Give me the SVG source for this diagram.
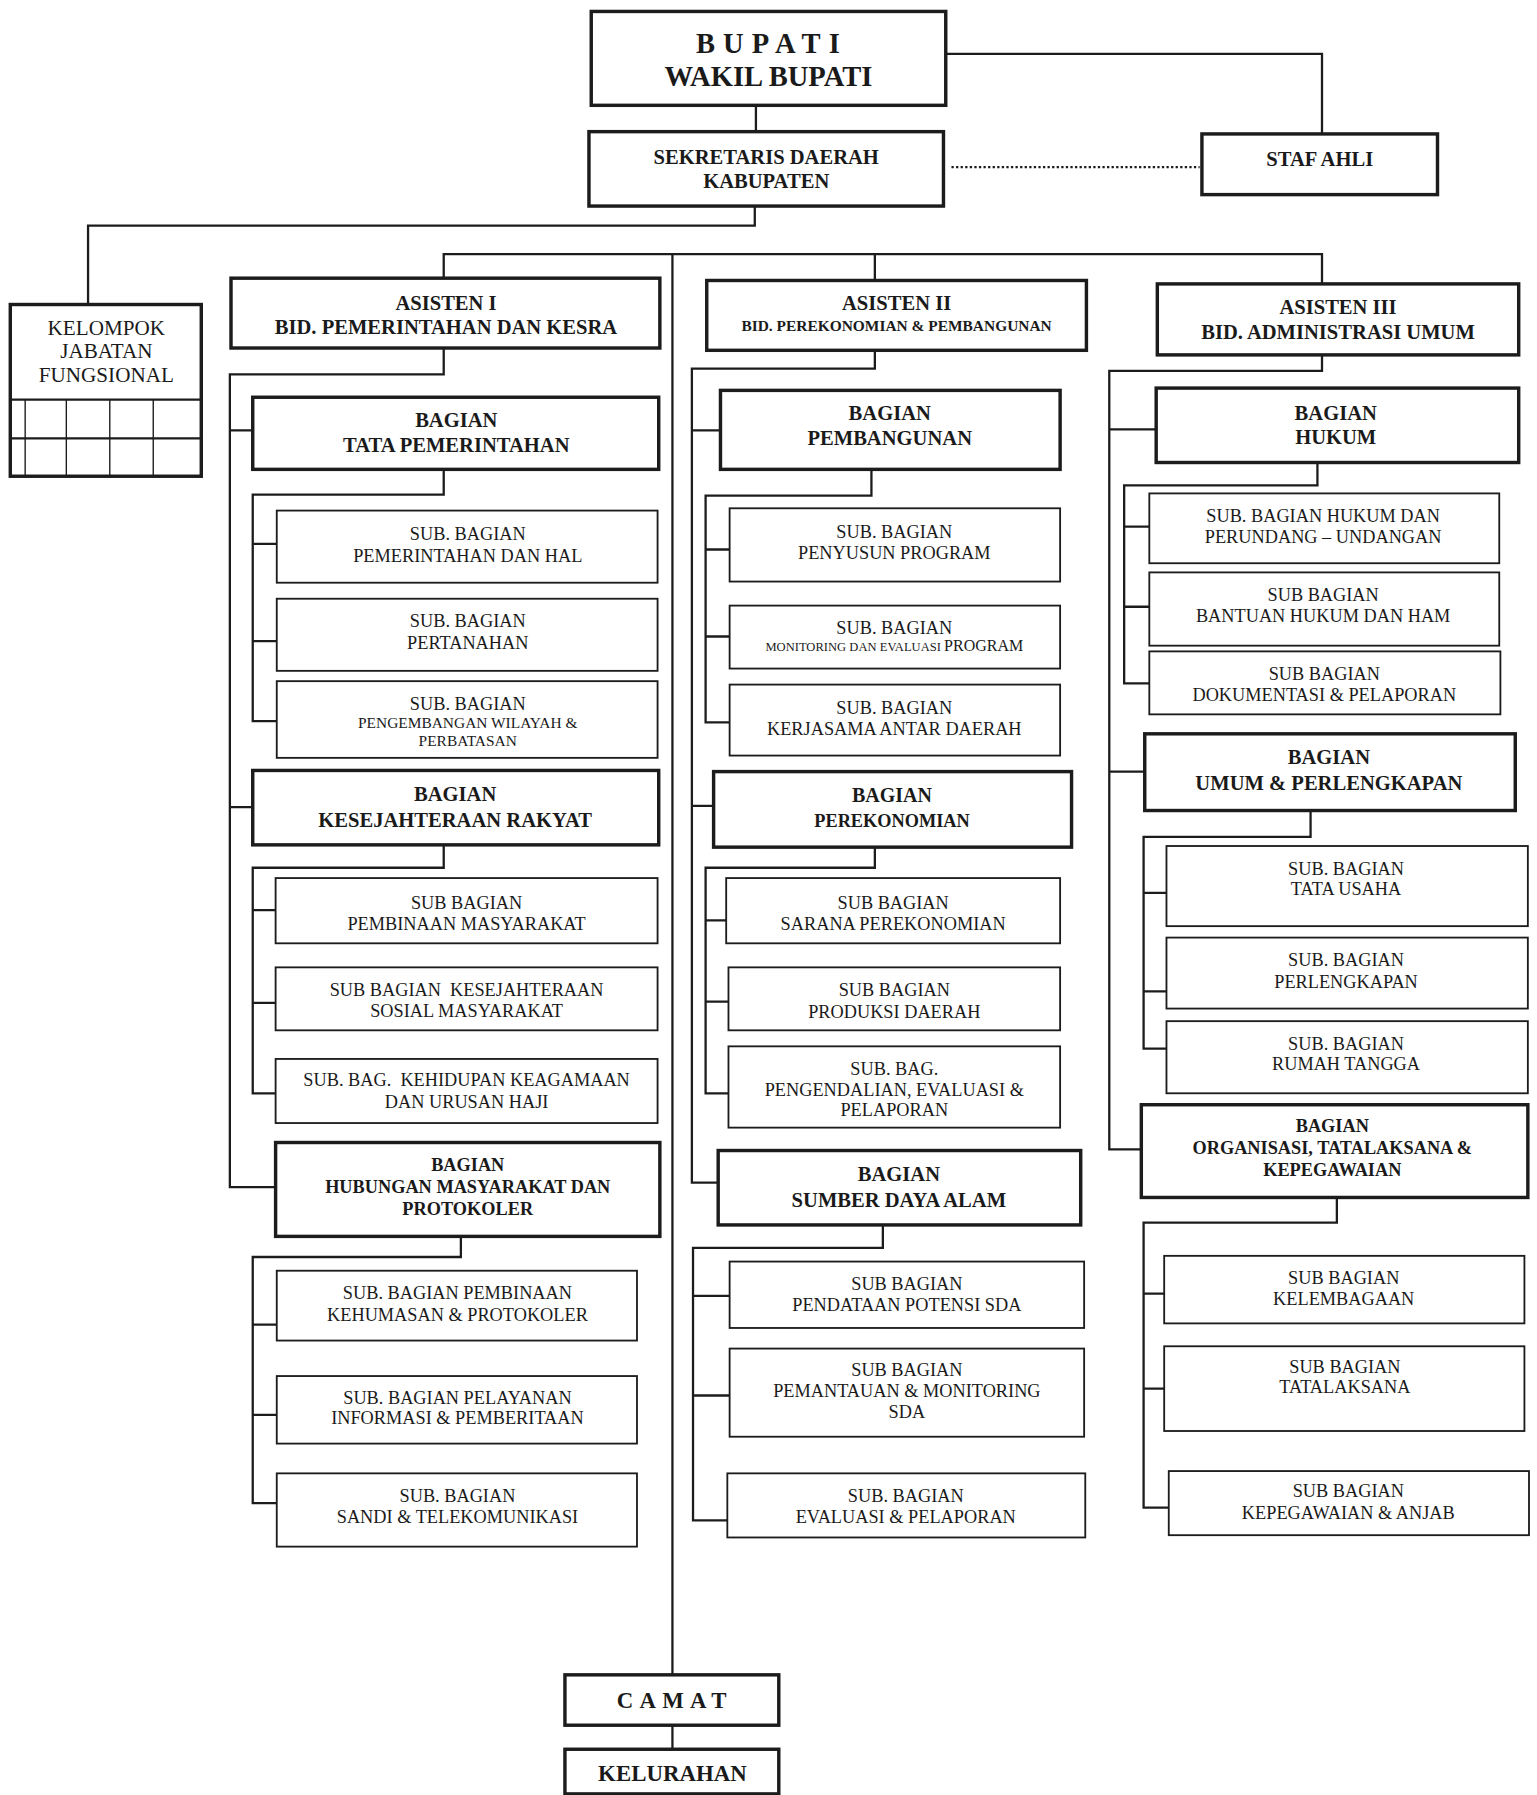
<svg xmlns="http://www.w3.org/2000/svg" width="1537" height="1795" viewBox="0 0 1537 1795">
<style>
.bt{fill:#fff;stroke:#1c1c1c;stroke-width:3}
.bn{fill:#fff;stroke:#1c1c1c;stroke-width:1.6}
.c{fill:none;stroke:#1c1c1c;stroke-width:2}
.g{fill:none;stroke:#1c1c1c;stroke-width:1.2}
.h{font-family:"Liberation Serif","Times New Roman",serif;font-weight:bold;text-anchor:middle;fill:#1a1a1a}
.s{font-family:"Liberation Serif","Times New Roman",serif;text-anchor:middle;fill:#1a1a1a}
</style>
<rect width="1537" height="1795" fill="#fff"/>
<g transform="scale(1.1436,1.1448)" font-size="16">
<g id="connectors">
<path class="c" d="M827,47 H1156 V117"/>
<path class="c" d="M661,92 V115"/>
<path class="c" d="M832,146 H1049" stroke-dasharray="2,2"/>
<path class="c" d="M660,180 V197 H77 V266"/>
<path class="c" d="M388,243 V222 H1156 V248 M765,222 V245"/>
<path class="c" d="M588,222 V1463"/>
<path class="c" d="M588,1507 V1528"/>
<path class="c" d="M388,304 V327 H201 V1037 H241 M201,376 H221 M201,705 H221"/>
<path class="c" d="M388,410 V432 H221 V630 H242 M221,475 H242 M221,560 H242"/>
<path class="c" d="M388,738 V758 H221 V955 H241 M221,795 H241 M221,876 H241"/>
<path class="c" d="M403,1080 V1098 H221 V1313 H242 M221,1157 H242 M221,1236 H242"/>
<path class="c" d="M765,306 V322 H605 V1033 H628 M605,376 H630 M605,704 H624"/>
<path class="c" d="M762,410 V433 H617 V631 H638 M617,480 H638 M617,556 H638"/>
<path class="c" d="M765,740 V758 H617 V955 H637 M617,804 H635 M617,875 H637"/>
<path class="c" d="M772,1070 V1090 H606 V1328 H636 M606,1132 H638 M606,1219 H638"/>
<path class="c" d="M1156,310 V324 H970 V1004 H998 M970,375 H1011 M970,674 H1001"/>
<path class="c" d="M1152,404 V424 H983 V597 H1005 M983,460 H1005 M983,530 H1005"/>
<path class="c" d="M1146,708 V731 H1000 V916 H1020 M1000,780 H1020 M1000,866 H1020"/>
<path class="c" d="M1169,1046 V1068 H1000 V1317 H1022 M1000,1130 H1018 M1000,1213 H1018"/>
</g>
<g id="bupati"><rect class="bt" x="517" y="10" width="310" height="82"/>
<text class="h" x="675" y="46" font-size="25" letter-spacing="7">BUPATI</text>
<text class="h" x="672" y="75" font-size="25">WAKIL BUPATI</text></g>
<g id="sekda"><rect class="bt" x="515" y="115" width="310" height="65"/>
<text class="h" x="670" y="143" font-size="18">SEKRETARIS DAERAH</text>
<text class="h" x="670" y="164" font-size="18">KABUPATEN</text></g>
<g id="staf-ahli"><rect class="bt" x="1051" y="117" width="206" height="53"/>
<text class="h" x="1154" y="145" font-size="18">STAF AHLI</text></g>
<g id="kelompok"><rect class="bt" x="9" y="266" width="167" height="150"/>
<path class="c" d="M9,349 H176 M9,383 H176" stroke-width="2.5"/>
<path class="g" d="M22,349 V416 M58,349 V416 M96,349 V416 M134,349 V416"/>
<text class="s" x="93" y="293" font-size="18.5">KELOMPOK</text>
<text class="s" x="93" y="313" font-size="18.5">JABATAN</text>
<text class="s" x="93" y="334" font-size="18.5">FUNGSIONAL</text></g>
<g id="asisten1"><rect class="bt" x="202" y="243" width="375" height="61"/>
<text class="h" x="390" y="271" font-size="18">ASISTEN I</text>
<text class="h" x="390" y="292" font-size="18">BID. PEMERINTAHAN DAN KESRA</text></g>
<g id="asisten2"><rect class="bt" x="618" y="245" width="332" height="61"/>
<text class="h" x="784" y="271" font-size="18">ASISTEN II</text>
<text class="h" x="784" y="289" font-size="13.5">BID. PEREKONOMIAN &amp; PEMBANGUNAN</text></g>
<g id="asisten3"><rect class="bt" x="1012" y="248" width="316" height="62"/>
<text class="h" x="1170" y="274" font-size="18">ASISTEN III</text>
<text class="h" x="1170" y="296" font-size="18">BID. ADMINISTRASI UMUM</text></g>
<g id="bag-tata-pemerintahan"><rect class="bt" x="221" y="347" width="355" height="63"/>
<text class="h" x="399" y="373" font-size="18">BAGIAN</text>
<text class="h" x="399" y="395" font-size="18">TATA PEMERINTAHAN</text></g>
<g id="sub-pemerintahan"><rect class="bn" x="242" y="446" width="333" height="63"/>
<text class="s" x="409" y="472">SUB. BAGIAN</text><text class="s" x="409" y="491">PEMERINTAHAN DAN HAL</text></g>
<g id="sub-pertanahan"><rect class="bn" x="242" y="523" width="333" height="63"/>
<text class="s" x="409" y="548">SUB. BAGIAN</text><text class="s" x="409" y="567">PERTANAHAN</text></g>
<g id="sub-wilayah"><rect class="bn" x="242" y="595" width="333" height="67"/>
<text class="s" x="409" y="620">SUB. BAGIAN</text><text class="s" x="409" y="636" font-size="13.5">PENGEMBANGAN WILAYAH &amp;</text><text class="s" x="409" y="652" font-size="13.5">PERBATASAN</text></g>
<g id="bag-kesra"><rect class="bt" x="221" y="673" width="355" height="65"/>
<text class="h" x="398" y="700" font-size="18">BAGIAN</text>
<text class="h" x="398" y="722" font-size="18">KESEJAHTERAAN RAKYAT</text></g>
<g id="sub-pembinaan"><rect class="bn" x="241" y="767" width="334" height="57"/>
<text class="s" x="408" y="794">SUB BAGIAN</text><text class="s" x="408" y="812">PEMBINAAN MASYARAKAT</text></g>
<g id="sub-kesos"><rect class="bn" x="241" y="845" width="334" height="55"/>
<text class="s" x="408" y="870" xml:space="preserve">SUB BAGIAN  KESEJAHTERAAN</text><text class="s" x="408" y="888">SOSIAL MASYARAKAT</text></g>
<g id="sub-keagamaan"><rect class="bn" x="241" y="925" width="334" height="56"/>
<text class="s" x="408" y="949" xml:space="preserve">SUB. BAG.  KEHIDUPAN KEAGAMAAN</text><text class="s" x="408" y="968">DAN URUSAN HAJI</text></g>
<g id="bag-humas"><rect class="bt" x="241" y="998" width="336" height="82"/>
<text class="h" x="409" y="1023" font-size="16">BAGIAN</text>
<text class="h" x="409" y="1042" font-size="16">HUBUNGAN MASYARAKAT DAN</text>
<text class="h" x="409" y="1061" font-size="16">PROTOKOLER</text></g>
<g id="sub-kehumasan"><rect class="bn" x="242" y="1110" width="315" height="61"/>
<text class="s" x="400" y="1135">SUB. BAGIAN PEMBINAAN</text><text class="s" x="400" y="1154">KEHUMASAN &amp; PROTOKOLER</text></g>
<g id="sub-informasi"><rect class="bn" x="242" y="1202" width="315" height="59"/>
<text class="s" x="400" y="1226">SUB. BAGIAN PELAYANAN</text><text class="s" x="400" y="1244">INFORMASI &amp; PEMBERITAAN</text></g>
<g id="sub-sandi"><rect class="bn" x="242" y="1287" width="315" height="64"/>
<text class="s" x="400" y="1312">SUB. BAGIAN</text><text class="s" x="400" y="1330">SANDI &amp; TELEKOMUNIKASI</text></g>
<g id="bag-pembangunan"><rect class="bt" x="630" y="341" width="297" height="69"/>
<text class="h" x="778" y="367" font-size="18">BAGIAN</text>
<text class="h" x="778" y="389" font-size="18">PEMBANGUNAN</text></g>
<g id="sub-penyusun"><rect class="bn" x="638" y="444" width="289" height="64"/>
<text class="s" x="782" y="470">SUB. BAGIAN</text><text class="s" x="782" y="488">PENYUSUN PROGRAM</text></g>
<g id="sub-monev"><rect class="bn" x="638" y="529" width="289" height="55"/>
<text class="s" x="782" y="554">SUB. BAGIAN</text><text class="s" x="782" y="569" font-size="11">MONITORING DAN EVALUASI <tspan font-size="14">PROGRAM</tspan></text></g>
<g id="sub-kerjasama"><rect class="bn" x="638" y="598" width="289" height="62"/>
<text class="s" x="782" y="624">SUB. BAGIAN</text><text class="s" x="782" y="642">KERJASAMA ANTAR DAERAH</text></g>
<g id="bag-perekonomian"><rect class="bt" x="624" y="674" width="313" height="66"/>
<text class="h" x="780" y="701" font-size="17.5">BAGIAN</text>
<text class="h" x="780" y="722" font-size="16">PEREKONOMIAN</text></g>
<g id="sub-sarana"><rect class="bn" x="635" y="767" width="292" height="57"/>
<text class="s" x="781" y="794">SUB BAGIAN</text><text class="s" x="781" y="812">SARANA PEREKONOMIAN</text></g>
<g id="sub-produksi"><rect class="bn" x="637" y="845" width="290" height="55"/>
<text class="s" x="782" y="870">SUB BAGIAN</text><text class="s" x="782" y="889">PRODUKSI DAERAH</text></g>
<g id="sub-pengendalian"><rect class="bn" x="637" y="914" width="290" height="71"/>
<text class="s" x="782" y="939">SUB. BAG.</text><text class="s" x="782" y="957">PENGENDALIAN, EVALUASI &amp;</text><text class="s" x="782" y="975">PELAPORAN</text></g>
<g id="bag-sda"><rect class="bt" x="628" y="1005" width="317" height="65"/>
<text class="h" x="786" y="1032" font-size="18">BAGIAN</text>
<text class="h" x="786" y="1054" font-size="18">SUMBER DAYA ALAM</text></g>
<g id="sub-pendataan"><rect class="bn" x="638" y="1102" width="310" height="58"/>
<text class="s" x="793" y="1127">SUB BAGIAN</text><text class="s" x="793" y="1145">PENDATAAN POTENSI SDA</text></g>
<g id="sub-pemantauan"><rect class="bn" x="638" y="1178" width="310" height="77"/>
<text class="s" x="793" y="1202">SUB BAGIAN</text><text class="s" x="793" y="1220">PEMANTAUAN &amp; MONITORING</text><text class="s" x="793" y="1239">SDA</text></g>
<g id="sub-evaluasi"><rect class="bn" x="636" y="1287" width="313" height="56"/>
<text class="s" x="792" y="1312">SUB. BAGIAN</text><text class="s" x="792" y="1330">EVALUASI &amp; PELAPORAN</text></g>
<g id="bag-hukum"><rect class="bt" x="1011" y="339" width="317" height="65"/>
<text class="h" x="1168" y="367" font-size="18">BAGIAN</text>
<text class="h" x="1168" y="388" font-size="18">HUKUM</text></g>
<g id="sub-perundangan"><rect class="bn" x="1005" y="431" width="306" height="61"/>
<text class="s" x="1157" y="456">SUB. BAGIAN HUKUM DAN</text><text class="s" x="1157" y="474">PERUNDANG – UNDANGAN</text></g>
<g id="sub-bantuan"><rect class="bn" x="1005" y="500" width="306" height="64"/>
<text class="s" x="1157" y="525">SUB BAGIAN</text><text class="s" x="1157" y="543">BANTUAN HUKUM DAN HAM</text></g>
<g id="sub-dokumentasi"><rect class="bn" x="1005" y="569" width="307" height="55"/>
<text class="s" x="1158" y="594">SUB BAGIAN</text><text class="s" x="1158" y="612">DOKUMENTASI &amp; PELAPORAN</text></g>
<g id="bag-umum"><rect class="bt" x="1001" y="641" width="324" height="67"/>
<text class="h" x="1162" y="667" font-size="18">BAGIAN</text>
<text class="h" x="1162" y="690" font-size="18">UMUM &amp; PERLENGKAPAN</text></g>
<g id="sub-tatausaha"><rect class="bn" x="1020" y="739" width="316" height="70"/>
<text class="s" x="1177" y="764">SUB. BAGIAN</text><text class="s" x="1177" y="782">TATA USAHA</text></g>
<g id="sub-perlengkapan"><rect class="bn" x="1020" y="819" width="316" height="62"/>
<text class="s" x="1177" y="844">SUB. BAGIAN</text><text class="s" x="1177" y="863">PERLENGKAPAN</text></g>
<g id="sub-rumahtangga"><rect class="bn" x="1020" y="892" width="316" height="63"/>
<text class="s" x="1177" y="917">SUB. BAGIAN</text><text class="s" x="1177" y="935">RUMAH TANGGA</text></g>
<g id="bag-organisasi"><rect class="bt" x="998" y="965" width="338" height="81"/>
<text class="h" x="1165" y="989" font-size="16">BAGIAN</text>
<text class="h" x="1165" y="1008" font-size="16">ORGANISASI, TATALAKSANA &amp;</text>
<text class="h" x="1165" y="1027" font-size="16">KEPEGAWAIAN</text></g>
<g id="sub-kelembagaan"><rect class="bn" x="1018" y="1097" width="315" height="59"/>
<text class="s" x="1175" y="1122">SUB BAGIAN</text><text class="s" x="1175" y="1140">KELEMBAGAAN</text></g>
<g id="sub-tatalaksana"><rect class="bn" x="1018" y="1176" width="315" height="74"/>
<text class="s" x="1176" y="1199">SUB BAGIAN</text><text class="s" x="1176" y="1217">TATALAKSANA</text></g>
<g id="sub-kepegawaian"><rect class="bn" x="1022" y="1285" width="315" height="56"/>
<text class="s" x="1179" y="1308">SUB BAGIAN</text><text class="s" x="1179" y="1327">KEPEGAWAIAN &amp; ANJAB</text></g>
<g id="camat"><rect class="bt" x="494" y="1463" width="187" height="44"/>
<text class="h" x="590" y="1492" font-size="20" letter-spacing="5.5">CAMAT</text></g>
<g id="kelurahan"><rect class="bt" x="494" y="1528" width="187" height="39"/>
<text class="h" x="588" y="1556" font-size="20">KELURAHAN</text></g>
</g>
</svg>
